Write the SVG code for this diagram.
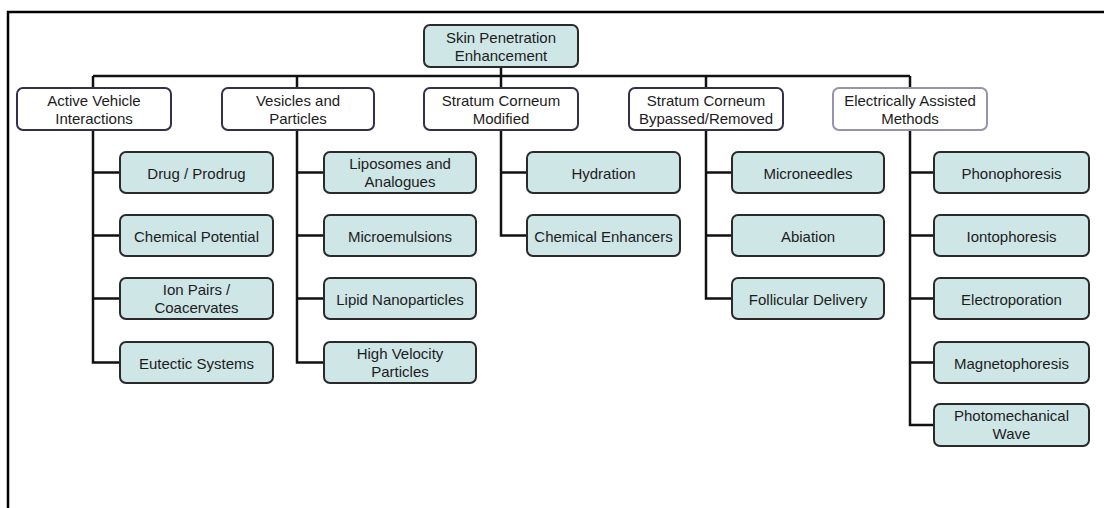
<svg xmlns="http://www.w3.org/2000/svg" width="1104" height="508" viewBox="0 0 1104 508">
<style>
.frame{fill:none;stroke:#000;stroke-width:2.5}
.conn{fill:none;stroke:#111;stroke-width:2.5}
.leaf{fill:#cfe6e7;stroke:#2a2a2a;stroke-width:2}
.cat{fill:#fff;stroke:#34304a;stroke-width:2}
.cat2{fill:#fff;stroke:#9a92aa;stroke-width:2}
text{font-family:"Liberation Sans",Arial,sans-serif;font-size:15px;fill:#1c1c1c;text-anchor:middle}
</style>
<rect width="1104" height="508" fill="#fff"/>
<path class="frame" d="M8 508V12H1104"/>
<g id="connectors">
<path class="conn" d="M501 67V76M93 76H910"/>
<path class="conn" d="M93 76V362.5H120M93 172.5H120M93 235.5H120M93 298.5H120"/>
<path class="conn" d="M297 76V362.5H324M297 172.5H324M297 235.5H324M297 298.5H324"/>
<path class="conn" d="M501 76V235.5H527M501 172.5H527"/>
<path class="conn" d="M706 76V298.5H732M706 172.5H732M706 235.5H732"/>
<path class="conn" d="M910 76V425H934M910 172.5H934M910 235.5H934M910 298.5H934M910 362.5H934"/>
</g>
<g id="root"><rect class="leaf" x="424" y="25" width="154" height="42" rx="6"/><text x="501" y="43">Skin Penetration</text><text x="501" y="61">Enhancement</text></g>
<g id="active-vehicle"><rect class="cat" x="17" y="88" width="154" height="42" rx="6"/><text x="94" y="106">Active Vehicle</text><text x="94" y="124">Interactions</text></g>
<g id="vesicles"><rect class="cat" x="222" y="88" width="152" height="42" rx="6"/><text x="298" y="106">Vesicles and</text><text x="298" y="124">Particles</text></g>
<g id="sc-modified"><rect class="cat" x="424" y="88" width="154" height="42" rx="6"/><text x="501" y="106">Stratum Corneum</text><text x="501" y="124">Modified</text></g>
<g id="sc-bypassed"><rect class="cat" x="629" y="88" width="154" height="42" rx="6"/><text x="706" y="106">Stratum Corneum</text><text x="706" y="124">Bypassed/Removed</text></g>
<g id="electrical"><rect class="cat2" x="833" y="88" width="154" height="42" rx="6"/><text x="910" y="106">Electrically Assisted</text><text x="910" y="124">Methods</text></g>
<g id="drug"><rect class="leaf" x="120" y="152" width="153" height="41" rx="6"/><text x="196.5" y="178.5">Drug / Prodrug</text></g>
<g id="chem-potential"><rect class="leaf" x="120" y="215" width="153" height="41" rx="6"/><text x="196.5" y="241.5">Chemical Potential</text></g>
<g id="ion-pairs"><rect class="leaf" x="120" y="278" width="153" height="41" rx="6"/><text x="196.5" y="295">Ion Pairs /</text><text x="196.5" y="313">Coacervates</text></g>
<g id="eutectic"><rect class="leaf" x="120" y="342" width="153" height="41" rx="6"/><text x="196.5" y="368.5">Eutectic Systems</text></g>
<g id="liposomes"><rect class="leaf" x="324" y="152" width="152" height="41" rx="6"/><text x="400" y="169">Liposomes and</text><text x="400" y="187">Analogues</text></g>
<g id="microemulsions"><rect class="leaf" x="324" y="215" width="152" height="41" rx="6"/><text x="400" y="241.5">Microemulsions</text></g>
<g id="lipid-nano"><rect class="leaf" x="324" y="278" width="152" height="41" rx="6"/><text x="400" y="304.5">Lipid Nanoparticles</text></g>
<g id="high-velocity"><rect class="leaf" x="324" y="342" width="152" height="41" rx="6"/><text x="400" y="359">High Velocity</text><text x="400" y="377">Particles</text></g>
<g id="hydration"><rect class="leaf" x="527" y="152" width="153" height="41" rx="6"/><text x="603.5" y="178.5">Hydration</text></g>
<g id="chem-enhancers"><rect class="leaf" x="527" y="215" width="153" height="41" rx="6"/><text x="603.5" y="241.5">Chemical Enhancers</text></g>
<g id="microneedles"><rect class="leaf" x="732" y="152" width="152" height="41" rx="6"/><text x="808" y="178.5">Microneedles</text></g>
<g id="ablation"><rect class="leaf" x="732" y="215" width="152" height="41" rx="6"/><text x="808" y="241.5">Abiation</text></g>
<g id="follicular"><rect class="leaf" x="732" y="278" width="152" height="41" rx="6"/><text x="808" y="304.5">Follicular Delivery</text></g>
<g id="phonophoresis"><rect class="leaf" x="934" y="152" width="155" height="41" rx="6"/><text x="1011.5" y="178.5">Phonophoresis</text></g>
<g id="iontophoresis"><rect class="leaf" x="934" y="215" width="155" height="41" rx="6"/><text x="1011.5" y="241.5">Iontophoresis</text></g>
<g id="electroporation"><rect class="leaf" x="934" y="278" width="155" height="41" rx="6"/><text x="1011.5" y="304.5">Electroporation</text></g>
<g id="magnetophoresis"><rect class="leaf" x="934" y="342" width="155" height="41" rx="6"/><text x="1011.5" y="368.5">Magnetophoresis</text></g>
<g id="photomechanical"><rect class="leaf" x="934" y="404" width="155" height="42" rx="6"/><text x="1011.5" y="421">Photomechanical</text><text x="1011.5" y="439">Wave</text></g>
</svg>
